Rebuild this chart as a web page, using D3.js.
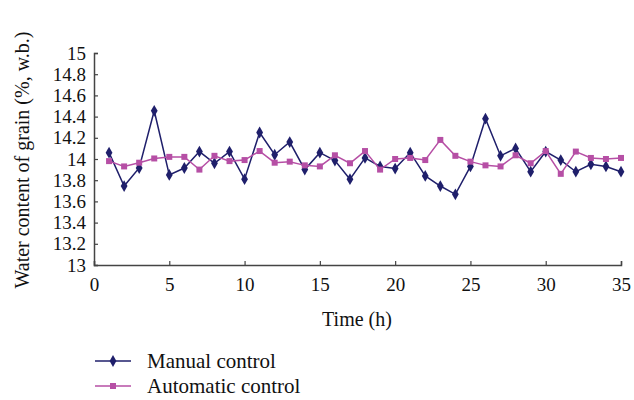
<!DOCTYPE html>
<html><head><meta charset="utf-8">
<script src="https://cdn.jsdelivr.net/npm/d3@7"></script>
<style>body{margin:0;background:#fff}svg{display:block}text{font-family:"Liberation Serif","Times New Roman",serif;fill:#111}</style>
</head><body>
<svg id="c" width="634" height="400"></svg>
<script>
const hours = d3.range(1, 36);
const manual = [14.06,13.745,13.915,14.455,13.85,13.915,14.07,13.96,14.07,13.81,
  14.25,14.04,14.16,13.90,14.06,13.985,13.81,14.01,13.93,13.91,
  14.06,13.84,13.745,13.667,13.93,14.38,14.03,14.10,13.88,14.07,
  13.99,13.88,13.95,13.93,13.88];
const automatic = [13.98,13.93,13.965,14.005,14.02,14.02,13.90,14.03,13.98,13.99,
  14.075,13.965,13.975,13.94,13.93,14.035,13.96,14.075,13.90,14.00,
  14.01,13.99,14.18,14.03,13.975,13.94,13.93,14.035,13.96,14.075,
  13.86,14.07,14.01,14.00,14.01];
const xTicks = [0,5,10,15,20,25,30,35];
const yTicks = [13,13.2,13.4,13.6,13.8,14,14.2,14.4,14.6,14.8,15];
const seriesNames = ["Manual control","Automatic control"];
const colors = ["#1f1f6b","#b64fa5"];

const svg = d3.select("#c");
const x = d3.scaleLinear().domain([0,35]).range([94,621]);
const y = d3.scaleLinear().domain([13,15]).range([265,53]);

const ax = svg.append("g").attr("transform","translate(0,265)")
  .call(d3.axisBottom(x).tickValues(xTicks).tickSize(-4).tickPadding(13).tickFormat(d3.format("d")));
const ay = svg.append("g").attr("transform","translate(94,0)")
  .call(d3.axisLeft(y).tickValues(yTicks).tickSize(-4).tickPadding(8).tickFormat(d=>d3.format("")(+d.toFixed(1))));
[ax,ay].forEach(g=>{
  g.select(".domain").attr("stroke","#444").attr("stroke-width",1.5);
  g.selectAll(".tick line").attr("stroke","#444").attr("stroke-width",1.2);
  g.selectAll(".tick text").style("font-family","'Liberation Serif',serif").style("font-size","19px").attr("fill","#111");
});
ax.selectAll(".tick text").attr("dy","0.7em");

const line = d3.line().x((d,i)=>x(hours[i])).y(d=>y(d));
const diamond = d3.symbol().type(d3.symbolDiamond).size(40);
const square = d3.symbol().type(d3.symbolSquare).size(36);

[[manual,colors[0],diamond],[automatic,colors[1],square]].forEach(([data,col,sym])=>{
  svg.append("path").datum(data).attr("d",line).attr("fill","none").attr("stroke",col).attr("stroke-width",1.5);
  svg.append("g").selectAll("path").data(data).join("path")
    .attr("transform",(d,i)=>`translate(${x(hours[i])},${y(d)})`)
    .attr("d",sym).attr("fill",col);
});

svg.append("text").attr("x",357).attr("y",326).attr("text-anchor","middle").style("font-size","20px").text("Time (h)");
svg.append("text").attr("transform","translate(29,160) rotate(-90)").attr("text-anchor","middle").style("font-size","20px")
  .text("Water content of grain (%, w.b.)");

const leg = svg.append("g");
[diamond,square].forEach((sym,i)=>{
  const ly = 361 + i*25;
  leg.append("line").attr("x1",95).attr("x2",131).attr("y1",ly).attr("y2",ly).attr("stroke",colors[i]).attr("stroke-width",1.5);
  leg.append("path").attr("transform",`translate(113,${ly})`).attr("d",sym).attr("fill",colors[i]);
  leg.append("text").attr("x",147).attr("y",ly).attr("dy","0.35em").style("font-size","21px").text(seriesNames[i]);
});
</script>
</body></html>
